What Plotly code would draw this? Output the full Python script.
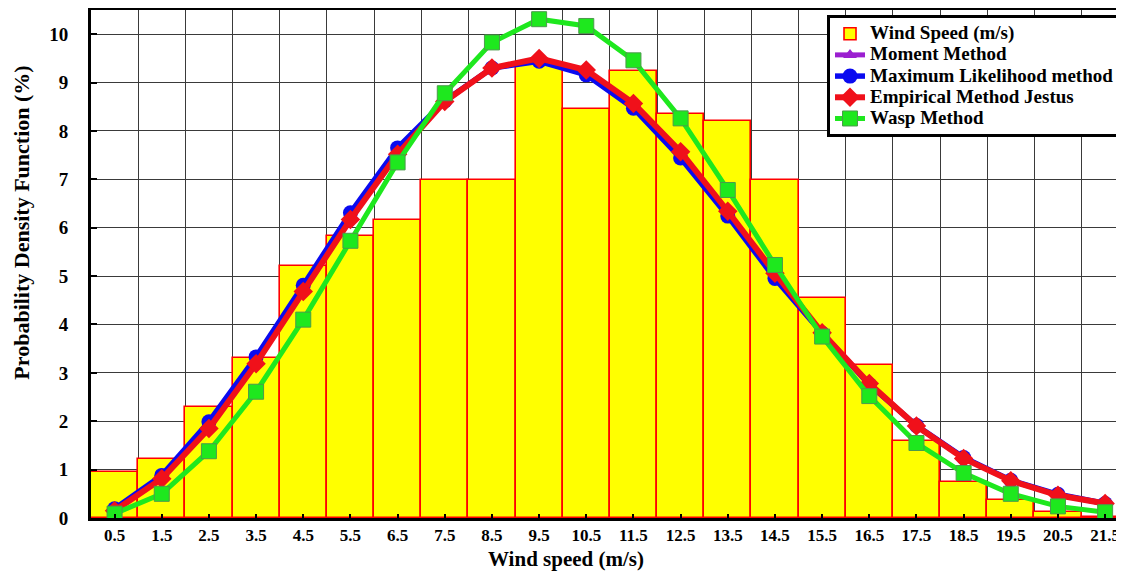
import plotly.graph_objects as go

# ---- data ----
speeds = [0.5, 1.5, 2.5, 3.5, 4.5, 5.5, 6.5, 7.5, 8.5, 9.5, 10.5,
          11.5, 12.5, 13.5, 14.5, 15.5, 16.5, 17.5, 18.5, 19.5, 20.5, 21.5]
tick_labels = ["0.5", "1.5", "2.5", "3.5", "4.5", "5.5", "6.5", "7.5", "8.5", "9.5", "10.5",
               "11.5", "12.5", "13.5", "14.5", "15.5", "16.5", "17.5", "18.5", "19.5", "20.5", "21.5"]
observed = [0.95, 1.21, 2.30, 3.30, 5.21, 5.83, 6.15, 6.99, 6.99, 9.41, 8.46,
            9.23, 8.35, 8.21, 6.99, 4.54, 3.16, 1.59, 0.75, 0.37, 0.12, 0.03]
moment = [0.17, 0.85, 1.92, 3.26, 4.75, 6.24, 7.58, 8.62, 9.30, 9.47, 9.21,
          8.52, 7.50, 6.29, 5.00, 3.82, 2.77, 1.90, 1.24, 0.77, 0.48, 0.30]
mle = [0.19, 0.88, 1.99, 3.33, 4.81, 6.31, 7.65, 8.62, 9.30, 9.44, 9.16,
       8.47, 7.44, 6.24, 4.95, 3.82, 2.76, 1.91, 1.25, 0.78, 0.49, 0.30]
empirical = [0.15, 0.81, 1.85, 3.19, 4.68, 6.17, 7.52, 8.61, 9.30, 9.50, 9.26,
             8.57, 7.57, 6.34, 5.06, 3.83, 2.78, 1.90, 1.23, 0.77, 0.47, 0.30]
wasp = [0.09, 0.50, 1.38, 2.61, 4.10, 5.73, 7.35, 8.78, 9.83, 10.31, 10.17,
        9.46, 8.26, 6.78, 5.23, 3.75, 2.52, 1.55, 0.93, 0.50, 0.24, 0.12]
y_ticks = [0, 1, 2, 3, 4, 5, 6, 7, 8, 9, 10]
series_names = ["Wind Speed (m/s)", "Moment Method", "Maximum Likelihood method",
                "Empirical Method Jestus", "Wasp Method"]

# bin boundaries (for vertical grid lines) derived from bin centres
bounds = [s - 0.5 for s in speeds] + [speeds[-1] + 0.5]

FONT = "Liberation Serif"
GRID = "#3a3a3a"


def leg(name):
    # larger legend text while keeping the compact row spacing of the reference
    return "<span style='font-size:19px'>" + name + "</span>"


fig = go.Figure()
fig.add_trace(go.Bar(
    x=speeds, y=observed, width=1.0, name=leg(series_names[0]),
    marker=dict(color="#FFFF00", line=dict(color="#FF0000", width=1.6)),
))
fig.add_trace(go.Scatter(
    x=speeds, y=moment, mode="lines+markers", name=leg(series_names[1]),
    line=dict(color="#9B1FD0", width=5),
    marker=dict(symbol="triangle-up", size=12, color="#9B1FD0"),
))
fig.add_trace(go.Scatter(
    x=speeds, y=mle, mode="lines+markers", name=leg(series_names[2]),
    line=dict(color="#0A0AF0", width=5.5),
    marker=dict(symbol="circle", size=15, color="#0A0AF0"),
))
fig.add_trace(go.Scatter(
    x=speeds, y=empirical, mode="lines+markers", name=leg(series_names[3]),
    line=dict(color="#F0101A", width=6),
    marker=dict(symbol="diamond", size=15, color="#F0101A"),
))
fig.add_trace(go.Scatter(
    x=speeds, y=wasp, mode="lines+markers", name=leg(series_names[4]),
    line=dict(color="#1EE81E", width=5),
    marker=dict(symbol="square", size=15, color="#1EE81E",
                line=dict(color="#4C9A4C", width=1)),
))

# the page places the figure 8px from the top-left corner, so the figure is
# sized to end exactly at the window edge
fig.update_layout(
    width=1116, height=563,
    margin=dict(l=83, r=0, t=2, b=53),
    paper_bgcolor="white", plot_bgcolor="white",
    bargap=0,
    font=dict(family=FONT, color="black"),
    showlegend=True,
    legend=dict(
        x=0.7125, y=0.99, xanchor="left", yanchor="top",
        bgcolor="white", bordercolor="black", borderwidth=3,
        font=dict(family=FONT, size=14, color="black", weight="bold"),
        tracegroupgap=0, itemwidth=30,
    ),
    xaxis=dict(
        range=[0, 21.9],
        tickmode="array", tickvals=speeds, ticktext=tick_labels,
        tickfont=dict(family=FONT, size=17, color="black", weight="bold"),
        ticks="inside", ticklen=4, tickwidth=2, tickcolor="black",
        showgrid=False, zeroline=False,
        showline=True, linecolor="black", linewidth=3, mirror=True,
        minor=dict(tickmode="array", tickvals=bounds, showgrid=True,
                   gridcolor=GRID, gridwidth=1.3, ticks=""),
        ticklabelstandoff=0,
        ticklabeloverflow="allow",
    ),
    yaxis=dict(
        range=[0, 10.5],
        tickmode="array", tickvals=y_ticks,
        tickfont=dict(family=FONT, size=19, color="black", weight="bold"),
        ticks="inside", ticklen=6, tickwidth=2, tickcolor="black",
        showgrid=True, gridcolor=GRID, gridwidth=1.3, zeroline=False,
        showline=True, linecolor="black", linewidth=3, mirror=False,
        ticklabelstandoff=16,
    ),
    annotations=[
        dict(text="Wind speed (m/s)", xref="paper", yref="paper",
             x=0.46, y=-0.053, xanchor="center", yanchor="top", showarrow=False,
             font=dict(family=FONT, size=21, color="black", weight="bold")),
        dict(text="Probability Density Function (%)", xref="paper", yref="paper",
             x=-0.067, y=0.581, xanchor="center", yanchor="middle", showarrow=False,
             textangle=-90,
             font=dict(family=FONT, size=22, color="black", weight="bold")),
    ],
)

fig.write_html("out.html")
